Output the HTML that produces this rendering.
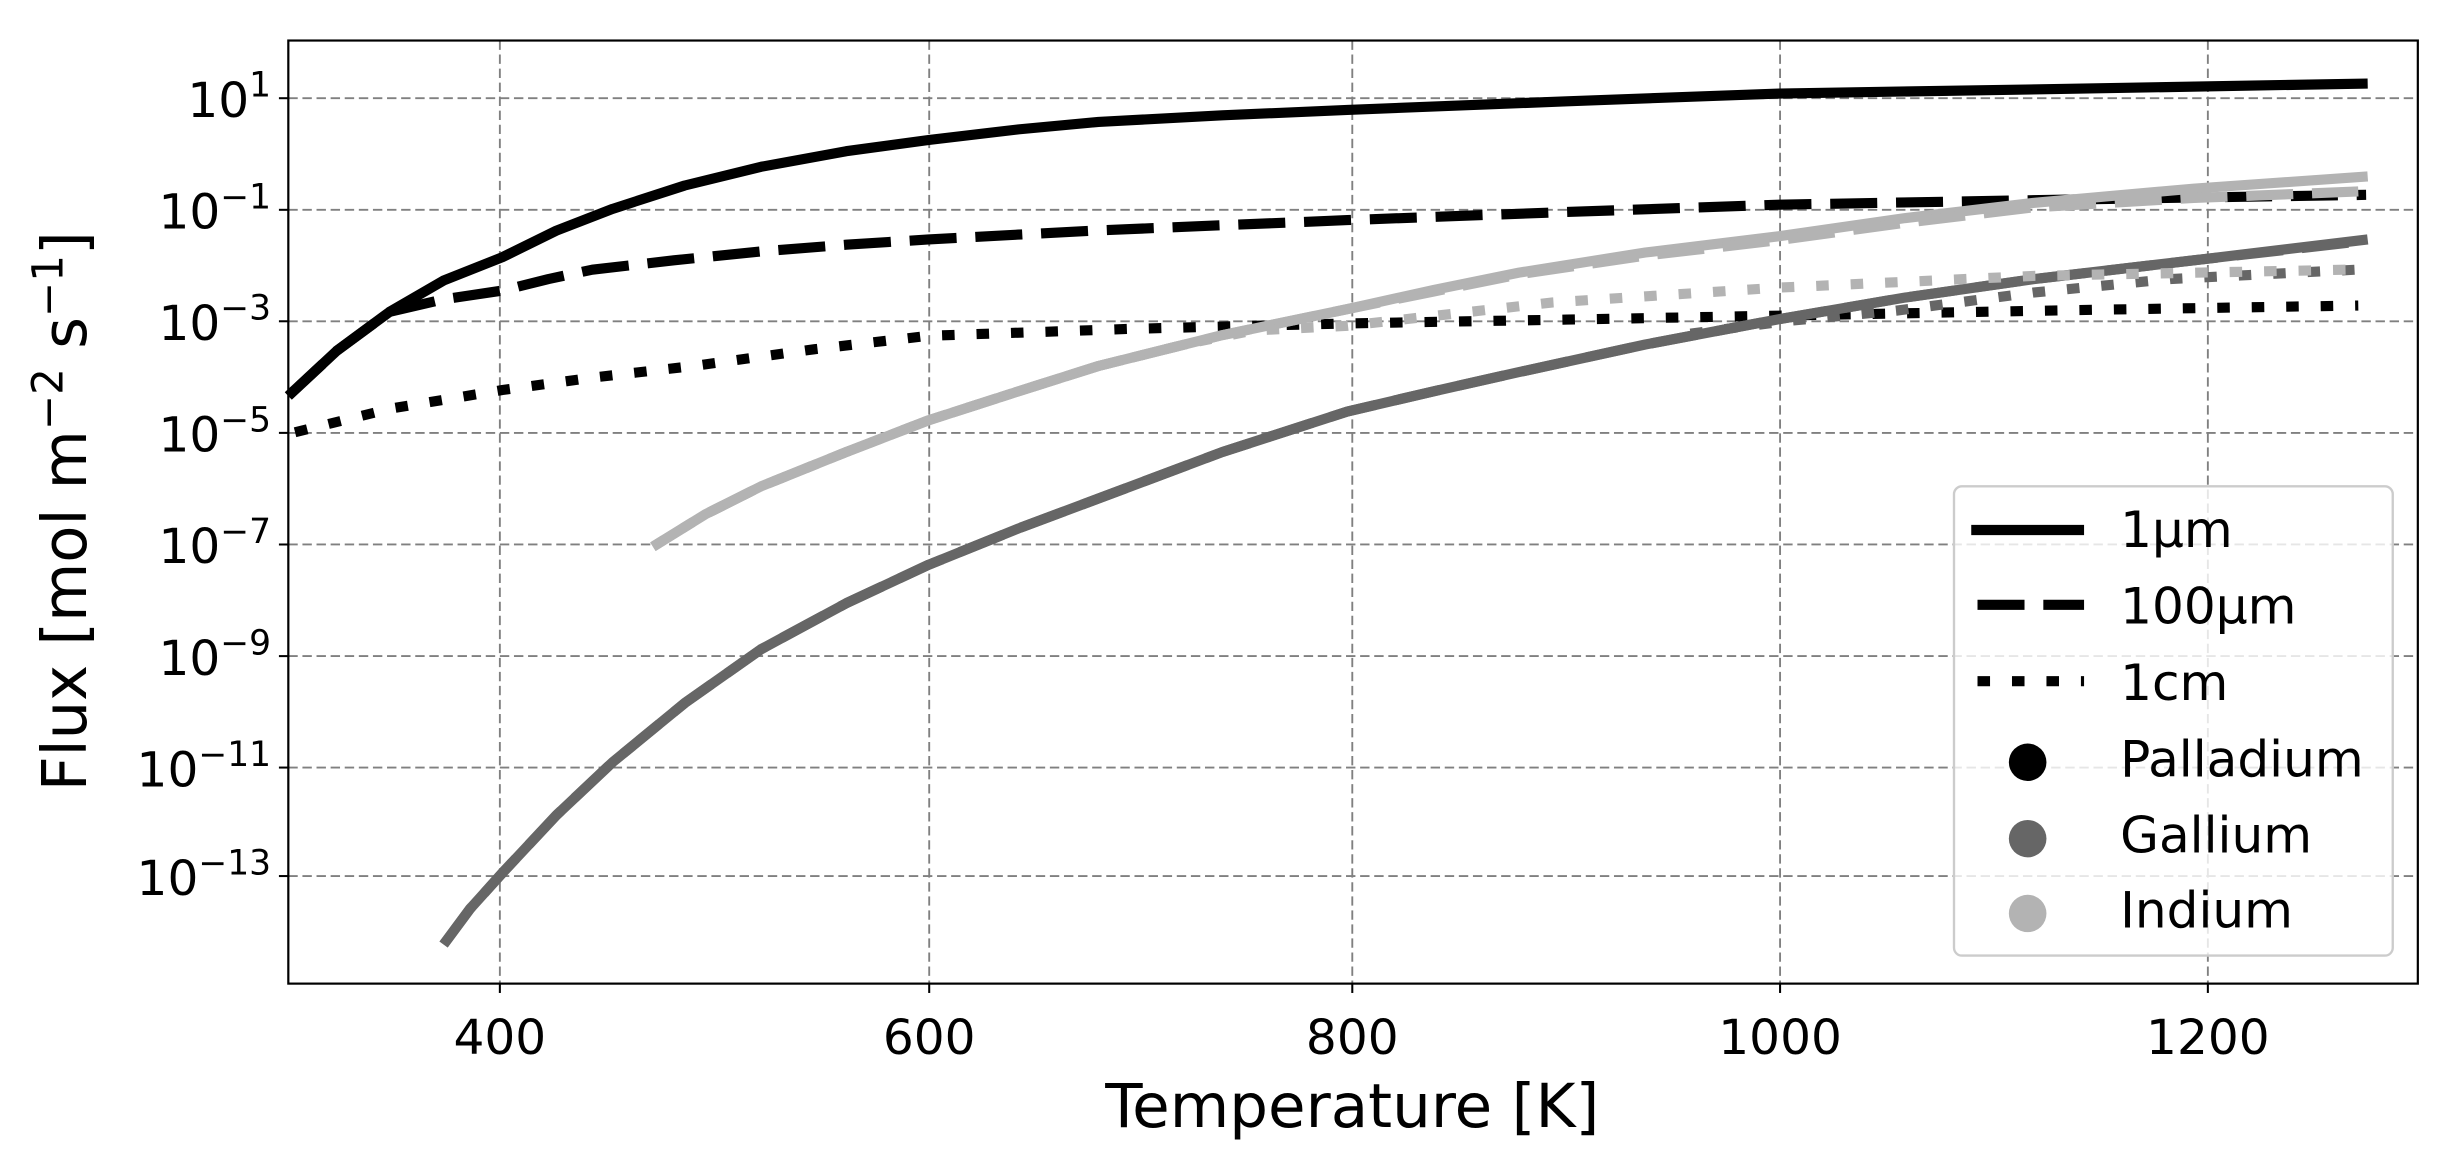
<!DOCTYPE html>
<html><head><meta charset="utf-8"><style>
html,body{margin:0;padding:0;background:#fff;}
svg{display:block;}
text{font-family:"DejaVu Sans","Liberation Sans",sans-serif;fill:#000;}
</style></head><body>
<svg width="2457" height="1166" viewBox="0 0 1568 748" preserveAspectRatio="none" xmlns="http://www.w3.org/2000/svg">
<rect x="0" y="0" width="1568" height="748" fill="#fff"/>
<g stroke="#808080" stroke-width="1.2" stroke-dasharray="6,3" fill="none">
<line x1="319" y1="26" x2="319" y2="631"/>
<line x1="593" y1="26" x2="593" y2="631"/>
<line x1="863" y1="26" x2="863" y2="631"/>
<line x1="1136" y1="26" x2="1136" y2="631"/>
<line x1="1409" y1="26" x2="1409" y2="631"/>
<line x1="184" y1="63" x2="1543" y2="63"/>
<line x1="184" y1="134.6" x2="1543" y2="134.6"/>
<line x1="184" y1="206.1" x2="1543" y2="206.1"/>
<line x1="184" y1="277.7" x2="1543" y2="277.7"/>
<line x1="184" y1="349.3" x2="1543" y2="349.3"/>
<line x1="184" y1="420.9" x2="1543" y2="420.9"/>
<line x1="184" y1="492.4" x2="1543" y2="492.4"/>
<line x1="184" y1="562" x2="1543" y2="562"/>
</g>
<g fill="none" stroke-width="6.5" stroke-linejoin="round">
<polyline stroke="#000" points="184,254 215,225 248.7,200 283,180 320.6,165 355,148 390.9,134 437,119 485.7,107 540,97 592.6,89.8 650,83 701,78.2 780,74 859.8,70.5 1000,65 1135.6,60 1320,57 1511,53.6"/>
<polyline stroke="#000" stroke-dasharray="30,12" points="184,254 215,225 248.7,200 283,192 320.6,186.4 350,179 378,173 430,167 485.7,161.3 540,157 592.6,153.6 650,150.5 701,147.8 780,144.5 859.8,141.2 1000,136 1135.6,131.3 1320,128 1510,125"/>
<polyline stroke="#000" stroke-dasharray="8,14" points="188.3,277.3 250,262 320.6,250.2 380,242 442.6,234.8 520,224 592.6,215.4 720,211 859.8,207.5 1000,205 1135.6,202.5 1320,199 1505,196"/>
</g>
<g fill="none" stroke="#666" stroke-width="6.5" stroke-linejoin="round">
<polyline points="283.1,605.9 300,583 320.6,560 355,523 390.9,489 437,451 485.7,416.5 540,387 592.6,362.3 650,339 701,319.8 780,290 859.8,264 915,251 969.4,238.7 1050,221 1135.6,204.7 1215,191 1297.5,179.1 1400,167 1511,153.6"/>
<polyline stroke-dasharray="30,12" points="283.1,605.9 300,583 320.6,560 355,523 390.9,489 437,451 485.7,416.5 540,387 592.6,362.3 650,339 701,319.8 780,290 859.8,264 915,251 969.4,238.7 1050,221 1135.6,204.7 1215,191 1297.5,179.1 1400,167 1505,155"/>
<polyline stroke-dasharray="8,14" points="1078.8,214 1140,206 1210,199.3 1297.5,187.7 1385,179 1507.5,172.8"/>
</g>
<g fill="none" stroke="#b3b3b3" stroke-width="6.5" stroke-linejoin="round">
<polyline points="416.7,350.7 450,330 485.7,312 540,290 592.6,269.6 650,251 701,234.8 780,215 859.8,198.3 915,186 969.4,174.9 1050,162 1135.6,151.5 1215,140 1297.5,130.2 1400,121 1511,113.2"/>
<polyline stroke-dasharray="30,12" points="416.7,350.7 450,330 485.7,312 540,290 592.6,269.6 650,251 701,234.8 780,215 859.8,198.3 915,187 969.4,176 1050,164 1135.6,154 1215,143 1297.5,133 1400,127 1505,122.8"/>
<polyline stroke-dasharray="8,14" points="416.7,350.7 450,330 485.7,312 540,290 592.6,269.6 650,251 701,234.8 760,220 800,212 860,209 991,194 1135.6,184.5 1297.5,177 1507.5,172.8"/>
</g>
<rect x="184" y="26" width="1359" height="605" fill="none" stroke="#000" stroke-width="1.4"/>
<g stroke="#000" stroke-width="1.3">
<line x1="319" y1="631" x2="319" y2="637"/><line x1="593" y1="631" x2="593" y2="637"/><line x1="863" y1="631" x2="863" y2="637"/><line x1="1136" y1="631" x2="1136" y2="637"/><line x1="1409" y1="631" x2="1409" y2="637"/>
<line x1="178" y1="63" x2="184" y2="63"/><line x1="178" y1="134.6" x2="184" y2="134.6"/><line x1="178" y1="206.1" x2="184" y2="206.1"/><line x1="178" y1="277.7" x2="184" y2="277.7"/><line x1="178" y1="349.3" x2="184" y2="349.3"/><line x1="178" y1="420.9" x2="184" y2="420.9"/><line x1="178" y1="492.4" x2="184" y2="492.4"/><line x1="178" y1="562" x2="184" y2="562"/>
</g>
<g font-size="31" text-anchor="middle">
<text x="319" y="676">400</text><text x="593" y="676">600</text><text x="863" y="676">800</text><text x="1136" y="676">1000</text><text x="1409" y="676">1200</text>
</g>
<g font-size="31" text-anchor="end">
<text x="173" y="75">10<tspan font-size="22" dy="-13">1</tspan></text>
<text x="173" y="146.6">10<tspan font-size="22" dy="-13">−1</tspan></text>
<text x="173" y="218.1">10<tspan font-size="22" dy="-13">−3</tspan></text>
<text x="173" y="289.7">10<tspan font-size="22" dy="-13">−5</tspan></text>
<text x="173" y="361.3">10<tspan font-size="22" dy="-13">−7</tspan></text>
<text x="173" y="432.9">10<tspan font-size="22" dy="-13">−9</tspan></text>
<text x="173" y="504.4">10<tspan font-size="22" dy="-13">−11</tspan></text>
<text x="173" y="574">10<tspan font-size="22" dy="-13">−13</tspan></text>
</g>
<text x="863" y="723" font-size="39" text-anchor="middle">Temperature [K]</text>
<text transform="translate(55,328) rotate(-90)" font-size="39" text-anchor="middle">Flux [mol m<tspan font-size="27" dy="-15">−2</tspan><tspan dy="15"> s</tspan><tspan font-size="27" dy="-15">−1</tspan><tspan dy="15">]</tspan></text>
<rect x="1247" y="312" width="280" height="301" rx="5" fill="#fff" fill-opacity="0.8" stroke="#cccccc" stroke-width="1.5"/>
<line x1="1258" y1="340" x2="1330" y2="340" stroke="#000" stroke-width="6.5"/>
<line x1="1262" y1="388" x2="1330" y2="388" stroke="#000" stroke-width="6.5" stroke-dasharray="30,12"/>
<line x1="1262" y1="437" x2="1330" y2="437" stroke="#000" stroke-width="6.5" stroke-dasharray="8,14"/>
<circle cx="1294" cy="489" r="12" fill="#000"/>
<circle cx="1294" cy="538" r="12" fill="#666"/>
<circle cx="1294" cy="586" r="12" fill="#b3b3b3"/>
<g font-size="32">
<text x="1353" y="351">1μm</text>
<text x="1353" y="400">100μm</text>
<text x="1353" y="449">1cm</text>
<text x="1353" y="498">Palladium</text>
<text x="1353" y="547">Gallium</text>
<text x="1353" y="595">Indium</text>
</g>
</svg>
</body></html>
